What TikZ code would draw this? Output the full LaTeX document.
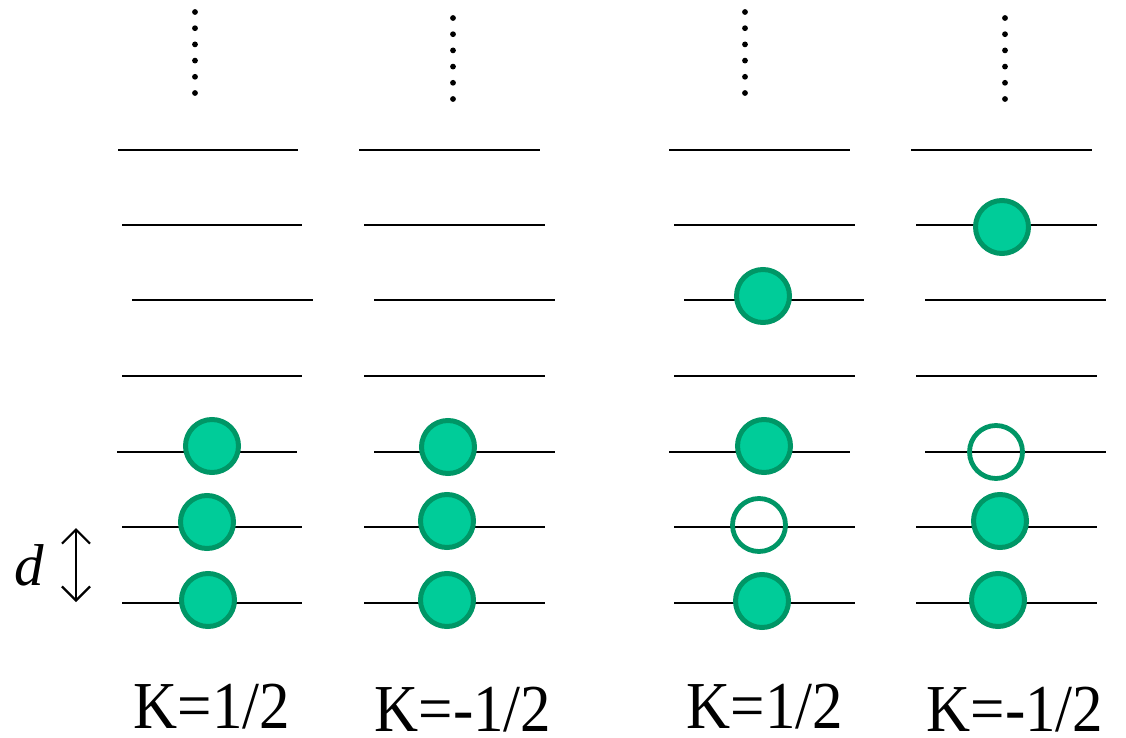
\documentclass[tikz,border=0pt]{standalone}
\usepackage{fontspec}
\setmainfont{Liberation Serif}
\usetikzlibrary{arrows.meta}
\definecolor{orbfill}{RGB}{0,204,153}
\definecolor{orbedge}{RGB}{0,150,102}

\begin{document}
\begin{tikzpicture}[x=1pt,y=-1pt,
  level/.style={line width=2.2pt,black},
  filled/.style={circle,draw=orbedge,fill=orbfill,line width=5pt,minimum size=53pt,inner sep=0pt},
  hole/.style={circle,draw=orbedge,line width=4.8pt,minimum size=53pt,inner sep=0pt},
  klabel/.style={font=\fontsize{61}{61}\selectfont,anchor=base,inner sep=0pt},
  ellipsisdot/.style={fill=black}]
\useasboundingbox (0,0) rectangle (1126,738);

% energy levels: y, then left/right ends for each of the four columns
\foreach \y/\a/\b/\c/\d/\e/\f/\g/\h in {
  150/118/298/359/540/669/850/911/1092,
  225/122/302/364/545/674/855/916/1097,
  300/132/313/374/555/684/864/925/1106,
  376/122/302/364/545/674/855/916/1097,
  452/117/297/374/555/669/850/925/1106,
  527/122/302/364/545/674/855/916/1097,
  603/122/302/364/545/674/855/916/1097}{
  \draw[level] (\a,\y) -- (\b,\y);
  \draw[level] (\c,\y) -- (\d,\y);
  \draw[level] (\e,\y) -- (\f,\y);
  \draw[level] (\g,\y) -- (\h,\y);
}

% vertical ellipses above each column
\foreach \x/\y in {195/12,453/18,745/12,1005/18}{
  \foreach \k in {0,...,5}{
    \fill[ellipsisdot] (\x,\y+16.2*\k) circle (2.9);
  }
}

% occupied and empty orbitals
\node[filled] (a1) at (212,446) {};
\node[filled] (a2) at (207,522) {};
\node[filled] (a3) at (208,600) {};
\node[filled] (b1) at (448,447) {};
\node[filled] (b2) at (447,521) {};
\node[filled] (b3) at (447,600) {};
\node[filled] (c0) at (763,296) {};
\node[filled] (c1) at (764,446) {};
\node[hole]   (c2) at (759,525) {};
\node[filled] (c3) at (762,601) {};
\node[filled] (e0) at (1002,227) {};
\node[hole]   (e1) at (996,452) {};
\node[filled] (e2) at (1000,521) {};
\node[filled] (e3) at (998,600) {};

% level spacing
\node[font=\fontsize{59}{59}\selectfont\itshape,anchor=base,inner sep=0pt] (dlab) at (29,585) {d};
\coordinate (dtop) at (76,528);
\coordinate (dbot) at (76,602);
\draw[line width=2.2pt,{Straight Barb[length=14pt,width=28pt]}-{Straight Barb[length=14pt,width=28pt]}] (dtop) -- (dbot);

% quantum number labels
\node[klabel] (k1) at (212,728) {\scalebox{1}[1.1]{K=1/2}};
\node[klabel] (k2) at (463,731) {\scalebox{1}[1.1]{K=-1/2}};
\node[klabel] (k3) at (765,728) {\scalebox{1}[1.1]{K=1/2}};
\node[klabel] (k4) at (1015,731) {\scalebox{1}[1.1]{K=-1/2}};
\end{tikzpicture}
\end{document}
